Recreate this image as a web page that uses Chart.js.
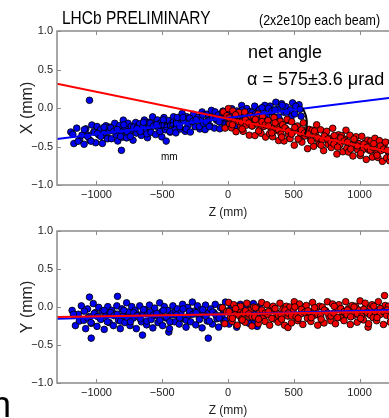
<!DOCTYPE html>
<html>
<head>
<meta charset="utf-8">
<script src="https://cdn.jsdelivr.net/npm/chart.js@4.4.0/dist/chart.umd.min.js"></script>
<style>
  html, body { margin: 0; padding: 0; background: #fff; }
  body { position: relative; width: 389px; height: 418px; overflow: hidden; }
  canvas { position: absolute; left: 0; }
  #xChart { top: 0; }
  #yChart { top: 220px; }
  .txt { position: absolute; white-space: nowrap; line-height: 1; color: #000;
         font-family: 'Liberation Sans', Arial, sans-serif; transform-origin: 0 0; }
</style>
</head>
<body>
<canvas id="xChart" width="410" height="220"></canvas>
<canvas id="yChart" width="410" height="198"></canvas>

<div class="txt" style="left:62px;top:8px;font-size:19px;transform:scaleX(0.815);">LHCb PRELIMINARY</div>
<div class="txt" style="left:259px;top:12px;font-size:15px;transform:scaleX(0.83);">(2x2e10p each beam)</div>
<div class="txt" style="left:248px;top:43px;font-size:18px;">net angle</div>
<div class="txt" style="left:247px;top:70px;font-size:18px;">α = 575±3.6 μrad</div>
<div class="txt" style="left:160px;top:120px;font-size:10px;">rad</div>
<div class="txt" style="left:161px;top:152px;font-size:10px;">mm</div>
<div class="txt" style="left:-9px;top:387px;font-size:36px;">n</div>

<script>
// tick values
const zTicks  = [-1000, -500, 0, 500, 1000];
const mmTicks = [-1.0, -0.5, 0.0, 0.5, 1.0];

// top panel, X vs Z  (flat pairs: z, x)
const topBlue = [
  -1195,-0.312, -1172,-0.462, -1150,-0.262, -1128,-0.412, -1110,-0.352, -1180,-0.342, -1140,-0.432,
  -1094,-0.471, -1081,-0.271, -1066,-0.351, -1053,0.100, -1049,-0.421, -1035,-0.221, -1020,-0.311, -1006,-0.451,
  -1092,-0.281, -1067,-0.371, -1042,-0.431, -1017,-0.311,
  -995,-0.240, -982,-0.350, -968,-0.280, -955,-0.460, -941,-0.320, -928,-0.230, -914,-0.390, -903,-0.300,
  -992,-0.330, -967,-0.370, -942,-0.250, -917,-0.400,
  -897,-0.249, -886,-0.399, -874,-0.289, -861,-0.199, -850,-0.349, -838,-0.429, -825,-0.229, -813,-0.309, -804,-0.379,
  -892,-0.259, -867,-0.299, -842,-0.279, -817,-0.369,
  -810,-0.550, -796,-0.158, -783,-0.248, -771,-0.388, -760,-0.198, -747,-0.308, -735,-0.238, -722,-0.418, -711,-0.278, -702,-0.188,
  -792,-0.218, -767,-0.308, -742,-0.368, -717,-0.248,
  -695,-0.326, -684,-0.236, -672,-0.206, -659,-0.356, -648,-0.246, -636,-0.156, -623,-0.306, -612,-0.386, -603,-0.186,
  -692,-0.266, -667,-0.306, -642,-0.186, -617,-0.336,
  -597,-0.245, -586,-0.315, -573,-0.115, -561,-0.205, -550,-0.345, -537,-0.155, -526,-0.265, -514,-0.195, -503,-0.375,
  -592,-0.195, -567,-0.235, -542,-0.215, -517,-0.305,
  -498,-0.214, -487,-0.124, -475,-0.284, -470,-0.430, -462,-0.194, -451,-0.164, -439,-0.314, -427,-0.204, -414,-0.114, -405,-0.264,
  -492,-0.154, -467,-0.244, -442,-0.304, -417,-0.184,
  -396,-0.323, -385,-0.123, -373,-0.203, -360,-0.273, -349,-0.073, -337,-0.163, -325,-0.303, -313,-0.113, -304,-0.223,
  -392,-0.203, -367,-0.243, -342,-0.123, -317,-0.273,
  -298,-0.132, -286,-0.312, -275,-0.172, -262,-0.082, -250,-0.242, -239,-0.152, -227,-0.122, -214,-0.272, -205,-0.162,
  -292,-0.132, -267,-0.172, -242,-0.152, -217,-0.242,
  -197,-0.051, -185,-0.201, -174,-0.281, -161,-0.081, -150,-0.161, -138,-0.231, -126,-0.031, -113,-0.121, -104,-0.261,
  -192,-0.091, -167,-0.181, -142,-0.241, -117,-0.121,
  -98,-0.050, -86,-0.160, -74,-0.090, -62,-0.270, -50,-0.130, -38,-0.040, -27,-0.200, -14,-0.110, -4,-0.080,
  -92,-0.140, -67,-0.180, -42,-0.060, -17,-0.210,
  4,-0.209, 17,-0.099, 29,-0.009, 42,-0.159, 55,-0.239, 67,-0.039, 80,-0.119, 93,-0.189,
  8,-0.069, 33,-0.109, 58,-0.089, 83,-0.179,
  104,0.033, 117,-0.057, 130,-0.197, 143,-0.007, 156,-0.117, 168,-0.047, 181,-0.227, 194,-0.087,
  108,-0.027, 133,-0.117, 158,-0.177, 183,-0.057,
  203,0.024, 216,-0.136, 229,-0.046, 241,-0.016, 254,-0.166, 267,-0.056, 280,0.034, 293,-0.116,
  208,-0.076, 233,-0.116, 258,0.004, 283,-0.146,
  305,-0.175, 320,0.025, 335,-0.055, 349,-0.125, 364,0.075, 378,-0.015, 393,-0.155,
  308,-0.005, 333,-0.045, 358,-0.025, 383,-0.115,
  408,0.056, 425,-0.054, 441,0.016, 458,-0.164, 474,-0.024, 491,0.066, 412,0.036, 445,-0.054, 480,-0.114,
  507,-0.077, 523,0.013, 540,0.043, 556,-0.107, 515,0.023, 548,-0.017
];
const topRed = [
  -35,-0.051, -22,-0.261, -8,-0.101,
  3,-0.008, 14,-0.208, 26,-0.258, 37,-0.038, 49,-0.168, 61,-0.308, 72,-0.098, 84,-0.058, 95,-0.228,
  8,-0.128, 33,-0.218, 58,-0.088, 83,-0.178,
  104,-0.183, 115,-0.303, 127,-0.053, 139,-0.223, 150,-0.143, 162,-0.353, 173,-0.103, 185,-0.233, 196,-0.113,
  108,-0.273, 133,-0.153, 158,-0.193, 183,-0.233,
  205,-0.358, 216,-0.198, 228,-0.078, 240,-0.278, 251,-0.328, 263,-0.108, 274,-0.238, 286,-0.378, 297,-0.168,
  208,-0.148, 233,-0.298, 258,-0.178, 283,-0.218,
  304,-0.163, 316,-0.333, 327,-0.253, 339,-0.373, 350,-0.123, 362,-0.293, 373,-0.213, 385,-0.423, 396,-0.173,
  308,-0.233, 333,-0.323, 358,-0.193, 383,-0.283,
  403,-0.338, 415,-0.218, 426,-0.428, 438,-0.268, 449,-0.148, 461,-0.348, 472,-0.398, 484,-0.178, 495,-0.308,
  408,-0.378, 433,-0.258, 458,-0.298, 483,-0.338,
  504,-0.483, 516,-0.273, 527,-0.233, 539,-0.403, 550,-0.323, 562,-0.443, 573,-0.193, 585,-0.363, 596,-0.283,
  508,-0.253, 533,-0.403, 558,-0.283, 583,-0.323,
  605,-0.528, 617,-0.278, 628,-0.408, 640,-0.288, 651,-0.498, 663,-0.338, 674,-0.218, 686,-0.418, 697,-0.468,
  608,-0.338, 633,-0.428, 658,-0.298, 683,-0.388,
  704,-0.283, 716,-0.413, 727,-0.553, 739,-0.343, 750,-0.303, 762,-0.473, 773,-0.393, 785,-0.513, 796,-0.263,
  708,-0.483, 733,-0.363, 758,-0.403, 783,-0.443,
  805,-0.468, 817,-0.388, 828,-0.598, 840,-0.348, 851,-0.478, 863,-0.358, 874,-0.568, 886,-0.408, 897,-0.288,
  808,-0.358, 833,-0.508, 858,-0.388, 883,-0.428,
  904,-0.523, 916,-0.573, 927,-0.353, 939,-0.483, 950,-0.623, 962,-0.413, 973,-0.373, 985,-0.543, 996,-0.463,
  908,-0.443, 933,-0.533, 958,-0.403, 983,-0.493,
  1005,-0.618, 1017,-0.368, 1028,-0.538, 1040,-0.458, 1051,-0.668, 1063,-0.418, 1074,-0.548, 1086,-0.428, 1097,-0.638,
  1008,-0.588, 1033,-0.468, 1058,-0.508, 1083,-0.548,
  1105,-0.513, 1117,-0.393, 1128,-0.593, 1140,-0.643, 1151,-0.423, 1163,-0.553, 1174,-0.693, 1186,-0.483, 1197,-0.443,
  1108,-0.463, 1133,-0.613, 1158,-0.493, 1183,-0.533,
  1206,-0.648, 1218,-0.568, 1230,-0.688, 1243,-0.438, 1255,-0.608, 1268,-0.528, 1280,-0.738, 1292,-0.488,
  1210,-0.548, 1235,-0.638, 1260,-0.508, 1285,-0.598
];
// fitted lines, top panel (z, x at the ends)
const topBlueFit = [-1300, -0.403, 1300, 0.145];
const topRedFit  = [-1300, 0.315, 1300, -0.595];

// bottom panel, Y vs Z  (flat pairs: z, y)
const botBlue = [
  -1185,-0.045, -1160,-0.245, -1138,-0.095, -1115,0.015, -1175,-0.095, -1130,-0.185,
  -1096,-0.175, -1082,-0.285, -1068,-0.025, -1053,0.130, -1053,-0.125, -1040,-0.410, -1039,-0.215, -1024,0.045, -1010,-0.075,
  -1092,-0.055, -1067,-0.145, -1042,-0.205, -1017,-0.085,
  -996,-0.255, -983,-0.005, -969,-0.155, -955,-0.055, -941,-0.295, -928,-0.115, -914,0.005, -903,-0.205,
  -992,-0.125, -967,-0.165, -942,-0.045, -917,-0.195,
  -897,-0.085, -884,-0.045, -871,-0.245, -858,-0.095, -845,0.015, -840,0.140, -832,-0.175, -819,-0.285, -806,-0.025,
  -892,-0.075, -867,-0.115, -842,-0.095, -817,-0.185,
  -797,-0.115, -784,-0.205, -771,0.055, -758,-0.065, -745,-0.245, -732,0.005, -719,-0.145, -706,-0.045,
  -792,-0.045, -767,-0.135, -742,-0.195, -717,-0.075,
  -697,-0.285, -684,-0.105, -671,0.015, -658,-0.195, -650,-0.370, -645,-0.075, -632,-0.035, -619,-0.235, -606,-0.085,
  -692,-0.115, -667,-0.155, -642,-0.035, -617,-0.185,
  -597,0.025, -584,-0.165, -571,-0.275, -558,-0.015, -545,-0.115, -532,-0.205, -519,0.055, -506,-0.065,
  -592,-0.065, -567,-0.105, -542,-0.085, -517,-0.175,
  -497,-0.245, -484,0.005, -471,-0.145, -458,-0.045, -450,-0.330, -445,-0.285, -432,-0.105, -419,0.015, -406,-0.195,
  -492,-0.045, -467,-0.135, -442,-0.195, -417,-0.075,
  -397,-0.065, -384,-0.025, -371,-0.225, -358,-0.075, -345,0.035, -332,-0.155, -319,-0.265, -306,-0.005,
  -392,-0.105, -367,-0.145, -342,-0.025, -317,-0.175,
  -297,-0.105, -284,-0.195, -271,0.065, -258,-0.055, -245,-0.235, -232,0.015, -219,-0.135, -206,-0.035,
  -292,-0.055, -267,-0.095, -242,-0.075, -217,-0.165,
  -197,-0.275, -184,-0.095, -171,0.025, -158,-0.185, -150,-0.410, -145,-0.065, -132,-0.025, -119,-0.225, -106,-0.075,
  -192,-0.035, -167,-0.125, -142,-0.185, -117,-0.065,
  -97,0.035, -84,-0.155, -71,-0.265, -58,-0.005, -45,-0.105, -32,-0.195, -19,0.065, -6,-0.055,
  -92,-0.105, -67,-0.145, -42,-0.025, -17,-0.175,
  8,-0.225, 22,0.025, 37,-0.125, 51,-0.025, 66,-0.265, 80,-0.085, 94,0.035,
  15,-0.045, 45,-0.085, 73,-0.065, 101,-0.155,
  108,-0.175, 125,-0.055, 142,-0.015, 159,-0.215, 176,-0.065, 193,0.045,
  133,-0.025, 168,-0.115, 200,-0.175, 230,-0.055,
  207,-0.145, 222,-0.255, 238,0.005, 252,-0.095
];
const botRed = [
  -42,-0.010, -25,-0.220, -10,-0.060,
  5,0.060, 18,-0.140, 31,-0.190, 44,0.030, 57,-0.100, 70,-0.240, 83,-0.030, 95,0.010,
  8,-0.060, 33,-0.150, 58,-0.020, 83,-0.110,
  104,-0.160, 117,-0.080, 130,-0.200, 143,0.050, 156,-0.120, 169,-0.040, 182,-0.250, 195,0.000,
  108,-0.170, 133,-0.050, 158,-0.090, 183,-0.130,
  204,-0.130, 217,-0.010, 230,-0.220, 243,-0.060, 256,0.060, 269,-0.140, 282,-0.190, 295,0.030,
  208,-0.010, 233,-0.160, 258,-0.040, 283,-0.080,
  304,-0.100, 317,-0.240, 330,-0.030, 343,0.010, 356,-0.160, 369,-0.080, 382,-0.200, 395,0.050,
  308,-0.060, 333,-0.150, 358,-0.020, 383,-0.110,
  404,-0.110, 417,-0.030, 430,-0.240, 443,0.010, 456,-0.120, 456,-0.270, 469,0.000, 482,-0.210, 495,-0.050,
  408,-0.160, 433,-0.040, 458,-0.080, 483,-0.120,
  504,0.070, 517,-0.130, 530,-0.180, 543,0.040, 556,-0.090, 569,-0.230, 582,-0.020, 595,0.020,
  508,0.000, 533,-0.150, 558,-0.030, 583,-0.070,
  604,-0.150, 617,-0.070, 630,-0.190, 643,0.060, 656,-0.110, 669,-0.030, 682,-0.240, 695,0.010,
  608,-0.050, 633,-0.140, 658,-0.010, 683,-0.100,
  704,-0.120, 717,0.000, 730,-0.210, 743,-0.050, 756,0.070, 769,-0.130, 782,-0.180, 795,0.040,
  708,-0.160, 733,-0.040, 758,-0.080, 783,-0.120,
  804,-0.080, 817,-0.220, 830,-0.010, 843,0.030, 856,-0.140, 869,-0.060, 882,-0.180, 895,0.070,
  808,0.010, 833,-0.140, 858,-0.020, 883,-0.060,
  904,-0.100, 917,-0.020, 930,-0.230, 943,0.020, 956,-0.110, 969,0.010, 982,-0.200, 995,-0.040,
  908,-0.040, 933,-0.130, 958,0.000, 983,-0.090,
  1004,0.080, 1017,-0.120, 1030,-0.170, 1043,0.050, 1056,-0.080, 1065,-0.265, 1069,-0.220, 1082,-0.010, 1095,0.030,
  1008,-0.150, 1033,-0.030, 1058,-0.070, 1083,-0.110,
  1104,-0.140, 1117,-0.060, 1130,-0.180, 1143,0.070, 1156,-0.100, 1169,-0.020, 1182,-0.230, 1190,0.150, 1195,0.020,
  1108,0.010, 1133,-0.140, 1158,-0.020, 1183,-0.060,
  1206,-0.110, 1220,0.010, 1234,-0.200, 1248,-0.040, 1262,0.080, 1276,-0.120, 1290,-0.170,
  1210,-0.040, 1235,-0.130, 1260,0.000, 1285,-0.090
];
const botBlueFit = [-1300, -0.155, 1300, -0.036];
const botRedFit  = [-1300, -0.130, 1300, -0.058];

// crossing-angle bracket in top panel (z, x from, x to)
const angleMark = [585, -0.005, -0.345];

function toPts(arr) {
  const out = [];
  for (let i = 0; i < arr.length; i += 2) out.push({ x: arr[i], y: arr[i + 1] });
  return out;
}

const FONT  = "'Liberation Sans', Arial, sans-serif";
const minus = s => String(s).replace('-', '\u2212');

// matplotlib-ish frame with inward ticks
const framePlugin = {
  id: 'frame',
  afterDraw(chart) {
    const { ctx, chartArea: a, scales: { x, y } } = chart;
    ctx.save();
    ctx.strokeStyle = '#8a8a8a';
    ctx.lineWidth = 1.5;
    ctx.strokeRect(a.left, a.top, a.right - a.left, a.bottom - a.top);
    ctx.lineWidth = 1;
    ctx.beginPath();
    zTicks.forEach(v => {
      const px = Math.round(x.getPixelForValue(v)) + 0.5;
      ctx.moveTo(px, a.top);    ctx.lineTo(px, a.top + 4);
      ctx.moveTo(px, a.bottom); ctx.lineTo(px, a.bottom - 4);
    });
    mmTicks.forEach(v => {
      const py = Math.round(y.getPixelForValue(v)) + 0.5;
      ctx.moveTo(a.left, py);  ctx.lineTo(a.left + 4, py);
      ctx.moveTo(a.right, py); ctx.lineTo(a.right - 4, py);
    });
    ctx.stroke();
    ctx.restore();
  }
};

const bracketPlugin = {
  id: 'bracket',
  afterDatasetsDraw(chart) {
    const { ctx, scales: { x, y } } = chart;
    const px = x.getPixelForValue(angleMark[0]);
    const y1 = y.getPixelForValue(angleMark[1]);
    const y2 = y.getPixelForValue(angleMark[2]);
    ctx.save();
    ctx.strokeStyle = '#000';
    ctx.lineWidth = 2;
    ctx.beginPath();
    ctx.moveTo(px - 2, y1);
    ctx.quadraticCurveTo(px + 5, (y1 + y2) / 2, px, y2);
    ctx.stroke();
    ctx.restore();
  }
};

function scatterSet(arr, fill) {
  return {
    type: 'scatter',
    data: toPts(arr),
    backgroundColor: fill,
    borderColor: 'rgba(0,0,0,0.85)',
    borderWidth: 1,
    pointRadius: 3.3,
    pointHoverRadius: 3.3
  };
}
function fitSet(arr, color) {
  return {
    type: 'line',
    data: toPts(arr),
    borderColor: color,
    borderWidth: 2,
    pointRadius: 0,
    fill: false
  };
}

function makePanel(canvas, { blue, red, blueFit, redFit, yTitle, padTop, plugins }) {
  return new Chart(canvas.getContext('2d'), {
    type: 'scatter',
    data: {
      // first listed is drawn on top
      datasets: [
        fitSet(redFit, '#ff0000'),
        fitSet(blueFit, '#0000ff'),
        scatterSet(red, '#f20000'),
        scatterSet(blue, '#0000f2')
      ]
    },
    options: {
      responsive: false,
      animation: false,
      events: [],
      layout: { padding: { top: padTop, right: 11, left: 0, bottom: 0 } },
      plugins: { legend: { display: false }, tooltip: { enabled: false } },
      scales: {
        x: {
          type: 'linear',
          min: -1300,
          max: 1300,
          grid: { display: false, drawTicks: false },
          border: { display: false },
          afterBuildTicks: s => { s.ticks = zTicks.map(v => ({ value: v })); },
          afterFit: s => { s.height = 35; },
          ticks: {
            padding: 3,
            color: '#222',
            font: { family: FONT, size: 11 },
            maxRotation: 0,
            callback: v => minus(v)
          },
          title: {
            display: true,
            text: 'Z (mm)',
            color: '#222',
            padding: 0,
            font: { family: FONT, size: 12, lineHeight: 1.2 }
          }
        },
        y: {
          type: 'linear',
          min: -1,
          max: 1,
          grid: { display: false, drawTicks: false },
          border: { display: false },
          afterBuildTicks: s => { s.ticks = mmTicks.map(v => ({ value: v })); },
          afterFit: s => { s.width = 57; },
          ticks: {
            padding: 4,
            color: '#222',
            font: { family: FONT, size: 11 },
            callback: v => minus(Number(v).toFixed(1))
          },
          title: {
            display: true,
            text: yTitle,
            color: '#222',
            padding: { top: 18, bottom: 0 },
            font: { family: FONT, size: 16, lineHeight: 1.2 }
          }
        }
      }
    },
    plugins
  });
}

makePanel(document.getElementById('xChart'), {
  blue: topBlue, red: topRed, blueFit: topBlueFit, redFit: topRedFit,
  yTitle: 'X (mm)', padTop: 31, plugins: [framePlugin, bracketPlugin]
});
makePanel(document.getElementById('yChart'), {
  blue: botBlue, red: botRed, blueFit: botBlueFit, redFit: botRedFit,
  yTitle: 'Y (mm)', padTop: 11, plugins: [framePlugin]
});
</script>
</body>
</html>
